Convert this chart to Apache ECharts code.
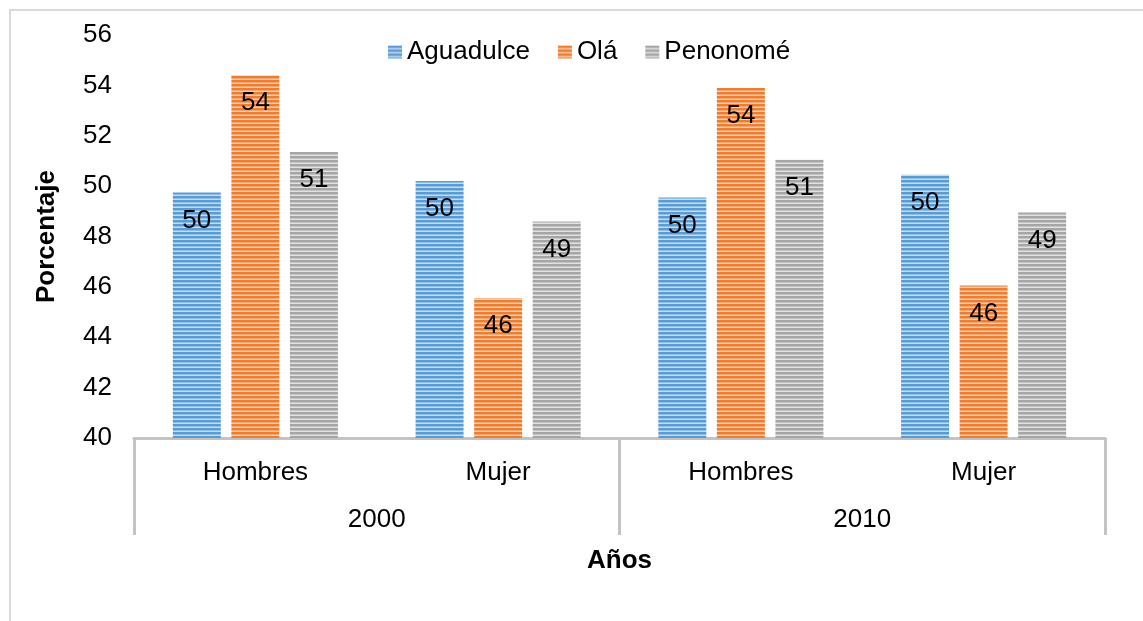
<!DOCTYPE html>
<html>
<head>
    <meta charset="utf-8">
    <title>Porcentaje por sexo</title>
    <script src="https://cdn.jsdelivr.net/npm/echarts@6/dist/echarts.min.js"></script>
    <style>
        body { margin: 0; background: #fff; }
    </style>
</head>
<body>
<div id="main" style="width: 1143px;height:621px;"></div>
<script type="text/javascript">
    // datos
    var sexos = ['Hombres', 'Mujer', 'Hombres', 'Mujer'];
    var anios = ['2000', '2010'];
    var aguadulce = [49.75, 50.2, 49.55, 50.45];
    var ola = [54.4, 45.55, 53.9, 46.05];
    var penonome = [51.35, 48.6, 51.05, 48.95];

    // rayas horizontales como en el excel
    function rayas(fuerte, claro) {
        var c = document.createElement('canvas');
        c.width = 4;
        c.height = 4;
        var ctx = c.getContext('2d');
        ctx.fillStyle = claro;
        ctx.fillRect(0, 0, 4, 4);
        ctx.fillStyle = fuerte;
        ctx.fillRect(0, 0, 4, 2.5);
        return {image: c, repeat: 'repeat'};
    }

    var fuente = 'Liberation Sans, Arial, sans-serif';
    var tam = 26;

    function serie(nombre, datos, fuerte, claro) {
        return {
            name: nombre,
            type: 'bar',
            data: datos,
            barGap: '22%',
            barCategoryGap: '32%',
            itemStyle: {color: rayas(fuerte, claro)},
            label: {
                show: true,
                position: 'insideTop',
                distance: 15,
                color: '#000',
                fontSize: tam,
                fontFamily: fuente,
                formatter: function (p) {
                    return Math.round(p.value);
                }
            }
        };
    }

    var myChart = echarts.init(document.getElementById('main'));

    option = {
        animation: false,
        textStyle: {fontFamily: fuente},
        graphic: [{
            type: 'rect',
            shape: {x: 10, y: 10, width: 1200, height: 700},
            style: {fill: 'none', stroke: '#d9d9d9', lineWidth: 2}
        }],
        legend: {
            top: 34,
            left: 383,
            icon: 'rect',
            itemWidth: 14,
            itemHeight: 13,
            itemGap: 28,
            textStyle: {fontSize: tam, color: '#000', fontFamily: fuente, padding: [0, 0, 0, 0]},
            data: ['Aguadulce', 'Olá', 'Penonomé']
        },
        grid: {left: 134, right: 38, top: 35, bottom: 183},
        xAxis: [{
            type: 'category',
            data: sexos,
            axisLine: {lineStyle: {color: '#c3c3c3', width: 3}},
            axisTick: {show: false},
            axisLabel: {fontSize: tam, color: '#000', margin: 22}
        }, {
            type: 'category',
            data: anios,
            position: 'bottom',
            name: 'Años',
            nameLocation: 'middle',
            nameGap: 110,
            nameTextStyle: {fontSize: tam, fontWeight: 'bold', color: '#000'},
            axisLine: {show: false},
            axisTick: {show: true, interval: 0, length: 97, lineStyle: {color: '#c3c3c3', width: 3}},
            axisLabel: {fontSize: tam, color: '#000', margin: 69}
        }],
        yAxis: {
            type: 'value',
            min: 40,
            max: 56,
            interval: 2,
            name: 'Porcentaje',
            nameLocation: 'middle',
            nameGap: 74,
            nameTextStyle: {fontSize: tam, fontWeight: 'bold', color: '#000'},
            axisLine: {show: false},
            axisTick: {show: false},
            splitLine: {show: false},
            axisLabel: {fontSize: tam, color: '#000', margin: 22}
        },
        series: [
            serie('Aguadulce', aguadulce, '#5b9bd5', '#c5dcf1'),
            serie('Olá', ola, '#ed7d31', '#f9cdb0'),
            serie('Penonomé', penonome, '#a5a5a5', '#e2e2e2')
        ]
    };
    myChart.setOption(option);
</script>
</body>
</html>
